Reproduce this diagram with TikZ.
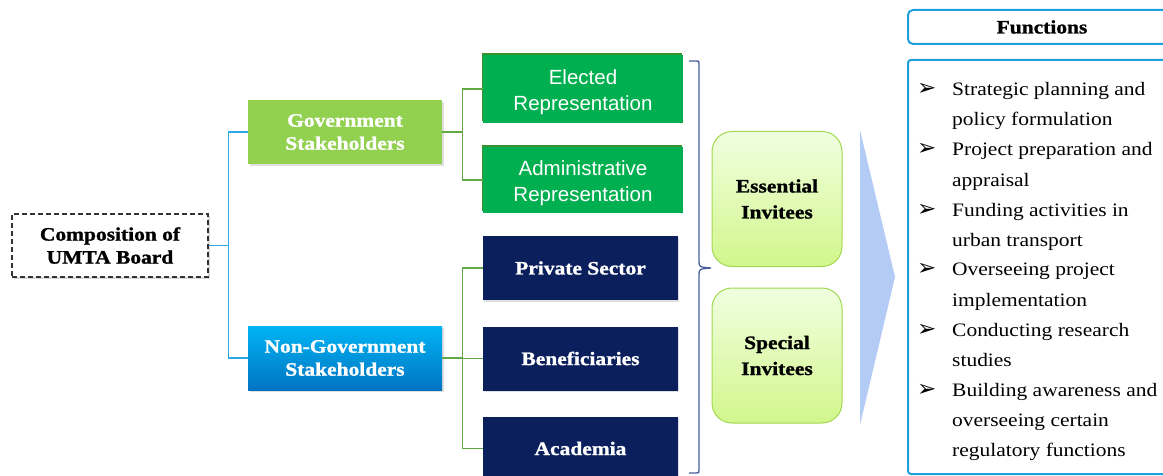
\documentclass[tikz,border=0pt]{standalone}
\usepackage{fontspec}
\setmainfont[FakeStretch=1.13, BoldFeatures={FakeBold=1.2}]{Liberation Serif}
\setsansfont{Liberation Sans}
\newfontfamily\symbfont{DejaVu Sans}
\usetikzlibrary{shadows, calc}

\definecolor{govgreen}{HTML}{92D050}
\definecolor{repgreen}{HTML}{00B050}
\definecolor{repdark}{HTML}{3A8F2E}
\definecolor{navy}{HTML}{0B1F5C}
\definecolor{skytop}{HTML}{00B4F4}
\definecolor{skybot}{HTML}{0074C2}
\definecolor{linkblue}{HTML}{2EA8E2}
\definecolor{linkgreen}{HTML}{5FA845}
\definecolor{bracecol}{HTML}{4A5E9E}
\definecolor{limetop}{HTML}{F0FFE0}
\definecolor{limebot}{HTML}{D2F68C}
\definecolor{limeline}{HTML}{A2D850}
\definecolor{chevron}{HTML}{B4CBF5}
\definecolor{funcline}{HTML}{1E9FDC}

\begin{document}
\begin{tikzpicture}[x=1pt, y=-1pt,
  serifbold/.style={font=\bfseries\fontsize{19}{23}\selectfont},
  stakebox/.style={serifbold, minimum width=194pt, minimum height=64pt, inner sep=0pt,
    align=center, text=white, drop shadow={shadow xshift=1.5pt, shadow yshift=-2pt, opacity=0.25}},
  repbox/.style={fill=repgreen, minimum width=200pt, inner sep=0pt,
    drop shadow={shadow xshift=-1pt, shadow yshift=2pt, fill=repdark, opacity=1}},
  reptext/.style={align=center, text=white, inner sep=0pt, font=\sffamily\fontsize{20.5}{26}\selectfont},
  ngobox/.style={serifbold, fill=navy, minimum width=195pt, minimum height=64pt, inner sep=0pt,
    align=center, text=white, drop shadow={shadow xshift=1pt, shadow yshift=-1.5pt, opacity=0.25}},
  invitee/.style={font=\bfseries\fontsize{19}{26}\selectfont, draw=limeline, line width=1pt,
    top color=limetop, bottom color=limebot, rounded corners=20pt,
    minimum width=130pt, minimum height=135pt, inner sep=0pt, align=center},
  bluelink/.style={draw=linkblue, line width=1.4pt},
  greenlink/.style={draw=linkgreen, line width=1.2pt},
  funcitem/.style={anchor=base west, inner sep=0pt, font=\fontsize{19}{23}\selectfont}
]
\useasboundingbox (0,0) rectangle (1163,476);

% root
\node[serifbold, draw=black!80, dash pattern=on 5pt off 3pt, line width=1.2pt, fill=white, align=center,
  minimum width=196pt, minimum height=63pt, inner sep=0pt,
  drop shadow={shadow xshift=1.5pt, shadow yshift=-2pt, opacity=0.3}]
  (comp) at (110,245.5) {Composition of\\UMTA Board};

% stakeholders
\node[stakebox, fill=govgreen] (gov) at (345,132) {Government\\Stakeholders};
\node[stakebox, top color=skytop, bottom color=skybot] (nongov) at (345,358) {Non-Government\\Stakeholders};

\draw[bluelink] (comp.east) -- ++(20,0) coordinate (split) |- (gov.west);
\draw[bluelink] (split) |- (nongov.west);

% government members
\node[repbox, minimum height=68pt] (elected) at (583,89) {};
\node[reptext] at ([yshift=-3pt]elected.center) {Elected\\Representation};
\node[repbox, minimum height=66pt] (admin) at (583,180) {};
\node[reptext] at ([yshift=-3pt]admin.center) {Administrative\\Representation};

\draw[greenlink] (gov.east) -- ++(20,0) coordinate (gsplit) |- (elected.west);
\draw[greenlink] (gsplit) |- (admin.west);

% non-government members
\node[ngobox] (private) at (580.5,268) {Private Sector};
\node[ngobox] (benef) at (580.5,358.5) {Beneficiaries};
\node[ngobox] (academia) at (580.5,448.5) {Academia};

\draw[greenlink] (nongov.east) -- ++(20,0) coordinate (nsplit) |- (private.west);
\draw[greenlink] (nsplit) |- (benef.west);
\draw[greenlink] (nsplit) |- (academia.west);

% brace
\draw[bracecol, line width=1.3pt]
  (689,61) -- (696,61) .. controls (699,61) .. (699,64) -- (699,261)
  .. controls (699,267) .. (711,268) .. controls (699,269) .. (699,275)
  -- (699,470) .. controls (699,473) .. (696,473) -- (689,473);

% invitees
\node[invitee] (essential) at (777,199) {Essential\\Invitees};
\node[invitee] (special) at (777,355.5) {Special\\Invitees};

% chevron
\fill[chevron] (860,130) -- (895,277) -- (860,425) -- cycle;

% functions
\draw[funcline, line width=2pt, rounded corners=5pt] (908,10) rectangle (1175,44);
\node[serifbold] (functitle) at (1042,27) {Functions};
\draw[funcline, line width=2pt, rounded corners=3pt] (908,60) rectangle (1175,474);

\foreach \t [count=\i from 0] in {Strategic planning and, policy formulation,
    Project preparation and, appraisal, Funding activities in, urban transport,
    Overseeing project, implementation, Conducting research, studies,
    Building awareness and, overseeing certain, regulatory functions} {
  \node[funcitem] (fl\i) at (952,{96+30*\i}) {\t};
}
\foreach \i in {0,2,...,10} {
  \node[funcitem, font=\symbfont\fontsize{23}{26}\selectfont] (bl\i) at (917,{96+30*\i}) {➢};
}
\end{tikzpicture}
\end{document}
